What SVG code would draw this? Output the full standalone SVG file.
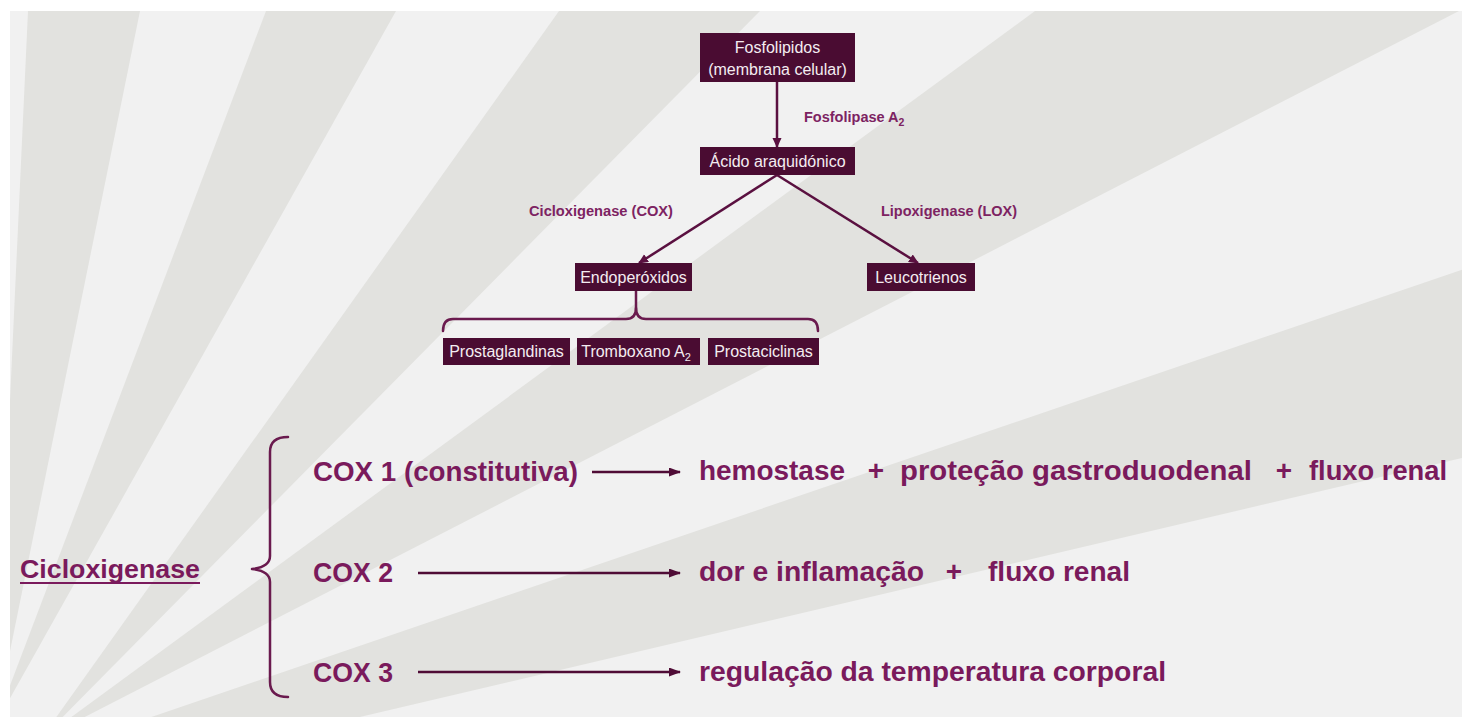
<svg xmlns="http://www.w3.org/2000/svg" width="1462" height="717" viewBox="0 0 1462 717">
  <defs>
    <style>
      .box { fill: #4a0c32; }
      .bt { font-family: "Liberation Sans", Arial, sans-serif; font-size: 16px; fill: #f4ecf1; text-anchor: middle; }
      .lbl { font-family: "Liberation Sans", Arial, sans-serif; font-size: 14.5px; font-weight: bold; fill: #7d2362; }
      .big { font-family: "Liberation Sans", Arial, sans-serif; font-size: 28px; font-weight: bold; fill: #7a1a5c; }
      .conn { stroke: #5a1040; stroke-width: 2.5; fill: none; }
      .bigarrow { stroke: #4f0c36; stroke-width: 2.5; fill: none; }
      .brace { stroke: #6a1a4e; stroke-width: 2.5; fill: none; stroke-linecap: round; stroke-linejoin: round; }
      .band { fill: #e2e2df; }
    </style>
    <marker id="ah" markerUnits="userSpaceOnUse" markerWidth="10" markerHeight="10" refX="9" refY="4.5" orient="auto">
      <path d="M0,0 L10,4.5 L0,9 z" fill="#5a1040"/>
    </marker>
    <marker id="ahb" markerUnits="userSpaceOnUse" markerWidth="12" markerHeight="10" refX="11" refY="4.5" orient="auto">
      <path d="M0,0 L12,4.5 L0,9 z" fill="#4f0c36"/>
    </marker>
    <clipPath id="content">
      <rect x="10" y="11" width="1452" height="706"/>
    </clipPath>
  </defs>

  <!-- background -->
  <rect x="0" y="0" width="1462" height="717" fill="#ffffff"/>
  <g id="background" clip-path="url(#content)">
    <rect x="10" y="11" width="1452" height="706" fill="#f1f1f1"/>
    <polygon class="band" points="28,11 140,11 -5,725"/>
    <polygon class="band" points="266,11 396,11 -5,725"/>
    <polygon class="band" points="559,11 760,11 40,740"/>
    <polygon class="band" points="1035,11 1459,11 40,740"/>
    <polygon class="band" points="1470,267 1470,456 262,740 84,740"/>
  </g>

  <!-- connectors -->
  <g id="connectors">
    <line class="conn" x1="777" y1="82" x2="777" y2="147" marker-end="url(#ah)"/>
    <line class="conn" x1="777" y1="175" x2="639" y2="263" marker-end="url(#ah)"/>
    <line class="conn" x1="777" y1="175" x2="918" y2="263" marker-end="url(#ah)"/>
    <path class="brace" d="M636,291 L636,308 Q636,319 646,319 L808,319 Q818,319 818,331"/>
    <path class="brace" d="M636,308 Q636,319 626,319 L453,319 Q443,319 443,331"/>
    <line class="bigarrow" x1="592" y1="472" x2="680" y2="472" marker-end="url(#ahb)"/>
    <line class="bigarrow" x1="418" y1="573" x2="680" y2="573" marker-end="url(#ahb)"/>
    <line class="bigarrow" x1="418" y1="672" x2="680" y2="672" marker-end="url(#ahb)"/>
    <path class="brace" d="M288,437 Q270,437 270,452 L270,556 Q270,567 252,569 Q270,571 270,582 L270,682 Q270,697 288,697"/>
  </g>

  <!-- pathway nodes -->
  <g id="fosfolipidos">
    <rect class="box" x="700" y="33" width="155" height="49"/>
    <text class="bt" x="777.5" y="53">Fosfolipidos</text>
    <text class="bt" x="777.5" y="75">(membrana celular)</text>
  </g>
  <g id="acido">
    <rect class="box" x="700" y="147" width="155" height="28"/>
    <text class="bt" x="777.5" y="167">Ácido araquidónico</text>
  </g>
  <g id="endoperoxidos">
    <rect class="box" x="575" y="263" width="117" height="28"/>
    <text class="bt" x="633.5" y="283">Endoperóxidos</text>
  </g>
  <g id="leucotrienos">
    <rect class="box" x="867" y="263" width="108" height="28"/>
    <text class="bt" x="921" y="283">Leucotrienos</text>
  </g>
  <g id="prostaglandinas">
    <rect class="box" x="443" y="338" width="127" height="27"/>
    <text class="bt" x="506.5" y="357">Prostaglandinas</text>
  </g>
  <g id="tromboxano">
    <rect class="box" x="577" y="338" width="123" height="27"/>
    <text class="bt" x="636" y="357">Tromboxano A<tspan dy="4" font-size="11">2</tspan></text>
  </g>
  <g id="prostaciclinas">
    <rect class="box" x="708" y="338" width="111" height="27"/>
    <text class="bt" x="763.5" y="357">Prostaciclinas</text>
  </g>

  <!-- enzyme labels -->
  <g id="labels">
    <text class="lbl" x="804" y="122">Fosfolipase A<tspan dy="4" font-size="10.5">2</tspan></text>
    <text class="lbl" x="529" y="216" textLength="144" lengthAdjust="spacingAndGlyphs">Cicloxigenase (COX)</text>
    <text class="lbl" x="881" y="216" textLength="136" lengthAdjust="spacingAndGlyphs">Lipoxigenase (LOX)</text>
  </g>

  <!-- bottom section -->
  <g id="cicloxigenase">
    <text class="big" x="20" y="578" font-size="26" textLength="180" lengthAdjust="spacingAndGlyphs" style="font-size:26px">Cicloxigenase</text>
    <line x1="20" y1="583" x2="200" y2="583" stroke="#7a1a5c" stroke-width="2"/>
  </g>
  <g id="cox1">
    <text class="big" x="313" y="481" textLength="265" lengthAdjust="spacingAndGlyphs">COX 1 (constitutiva)</text>
  </g>
  <g id="cox2">
    <text class="big" x="313" y="582" textLength="80" lengthAdjust="spacingAndGlyphs">COX 2</text>
  </g>
  <g id="cox3">
    <text class="big" x="313" y="682" textLength="80" lengthAdjust="spacingAndGlyphs">COX 3</text>
  </g>
  <g id="cox1-effects">
    <text class="big" x="699" y="480" textLength="146" lengthAdjust="spacingAndGlyphs">hemostase</text>
    <text class="big" x="876" y="480" text-anchor="middle">+</text>
    <text class="big" x="900" y="480" textLength="352" lengthAdjust="spacingAndGlyphs">proteção gastroduodenal</text>
    <text class="big" x="1284" y="480" text-anchor="middle">+</text>
    <text class="big" x="1309" y="480" textLength="138" lengthAdjust="spacingAndGlyphs">fluxo renal</text>
  </g>
  <g id="cox2-effects">
    <text class="big" x="699" y="581" textLength="225" lengthAdjust="spacingAndGlyphs">dor e inflamação</text>
    <text class="big" x="954" y="581" text-anchor="middle">+</text>
    <text class="big" x="988" y="581" textLength="142" lengthAdjust="spacingAndGlyphs">fluxo renal</text>
  </g>
  <g id="cox3-effects">
    <text class="big" x="699" y="681" textLength="467" lengthAdjust="spacingAndGlyphs">regulação da temperatura corporal</text>
  </g>
</svg>
